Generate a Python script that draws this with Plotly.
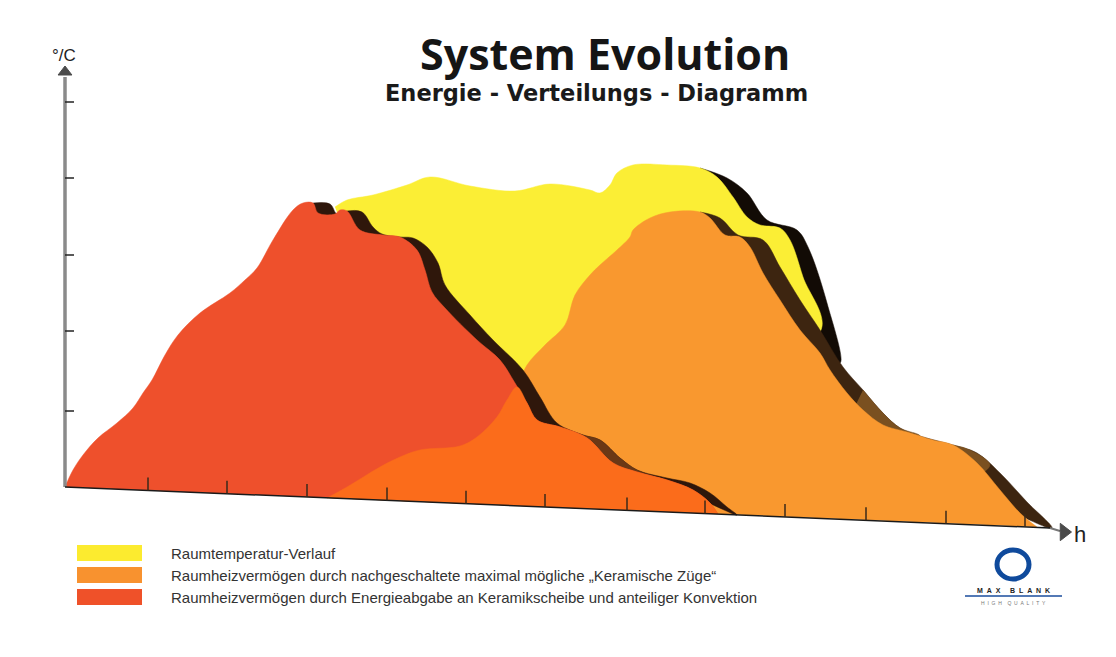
import plotly.graph_objects as go

# Hours axis in drawing units (one scale division is about 80), temperature about 77 per division
RED_X = [0,8,18,33,52,68,78,87,100,113,135,165,180,192,208,228,238,248,253,270,275,282,295,318,335,352,360,367,380,412,435,450,462,472,495,522,548,572,602,628,645,653]
RED_Y = [0,17,32,49,64,79,94,107,132,152,174,194,207,219,247,277,284,284,274,273,277,276,257,252,250,237,217,195,179,147,127,104,84,67,60,49,24,15,7,-3,-16,-27]
RED_EDGE_X = [248,265,272,282,297,308,317,335,348,362,373,380,405,428,458,475,492,518,535,555,572,602,625,645,662,672,600,248]
RED_EDGE_Y = [284,283,273,276,275,260,253,250,249,240,224,202,172,147,117,90,64,52,47,29,17,9,4,-6,-20,-28,0,50]
RED_FADE_X = [500,518,535,555,572,590,540,500]
RED_FADE_Y = [59,52,47,29,17,10,20,40]
ORANGE_X = [262,282,315,335,355,395,412,432,442,452,462,480,500,510,525,535,552,565,568,585,605,635,645,660,675,685,698,715,735,755,765,782,798,818,842,868,888,912,935,955,972]
ORANGE_Y = [-11,0,20,30,37,41,50,70,87,100,122,142,162,192,212,222,237,250,257,269,275,275,269,252,250,240,214,187,157,134,117,94,77,62,55,47,42,24,-3,-26,-40]
ORANGE_EDGE_X = [635,655,673,698,715,735,755,778,798,818,835,855,888,912,935,962,987,935,635]
ORANGE_EDGE_Y = [275,269,252,247,220,187,157,120,97,74,59,51,42,34,14,-15,-41,-20,100]
ORANGE_FADE_X = [798,818,835,855,820,780]
ORANGE_FADE_Y = [97,74,59,51,40,60]
ORANGE_FADE2_X = [888,905,925,905,885]
ORANGE_FADE2_Y = [42,37,22,10,30]
YELLOW_X = [270,282,308,342,365,405,450,485,525,535,545,552,568,602,635,652,668,682,695,715,725,738,755,480,300]
YELLOW_Y = [280,287,292,302,310,301,296,303,297,294,302,314,322,322,319,310,290,270,262,259,247,210,155,100,200]
YELLOW_EDGE_X = [635,662,682,702,732,743,762,775,725,635]
YELLOW_EDGE_Y = [319,309,294,267,257,240,184,124,180,240]
OVERLAP_X = [262,282,315,335,355,395,412,432,442,452,462,472,495,522,548,572,602,628,645,653]
OVERLAP_Y = [-11,0,20,30,37,41,50,70,87,100,84,67,60,49,24,15,7,-3,-16,-27]

X_TICKS = [83,162,242,322,401,480,562,640,720,801,881,960]
X_TICK_BASE = [-3.5,-6.7,-10,-13.4,-16.7,-20,-23.4,-26.6,-30,-33.3,-36.7,-40]
Y_TICKS = [76,156,232,309,385]

LEGEND_LABELS = [
    "Raumtemperatur-Verlauf",
    "Raumheizvermögen durch nachgeschaltete maximal mögliche „Keramische Züge“",
    "Raumheizvermögen durch Energieabgabe an Keramikscheibe und anteiliger Konvektion",
]
LEGEND_COLORS = ["#FCEB2F", "#F8922F", "#EF5129"]
LEGEND_Y = [-66, -88, -110]

YELLOW, ORANGE, RED, OVERLAP = "#FBEE35", "#F9982F", "#EE502C", "#FB6C1B"

fig = go.Figure()

def area(x, y, color):
    fig.add_trace(go.Scatter(x=x, y=y, mode="lines", fill="toself", fillcolor=color,
                             line=dict(color=color, width=0.5, shape="spline", smoothing=1.0),
                             hoverinfo="skip", showlegend=False))

area(YELLOW_EDGE_X, YELLOW_EDGE_Y, "#120B05")
area(YELLOW_X, YELLOW_Y, YELLOW)
area(ORANGE_EDGE_X, ORANGE_EDGE_Y, "#3D2510")
area(ORANGE_FADE_X, ORANGE_FADE_Y, "#7A5020")
area(ORANGE_FADE2_X, ORANGE_FADE2_Y, "#7A5020")
area(ORANGE_X, ORANGE_Y, ORANGE)
area(RED_EDGE_X, RED_EDGE_Y, "#2F170B")
area(RED_FADE_X, RED_FADE_Y, "#6B3815")
area(RED_X, RED_Y, RED)
area(OVERLAP_X, OVERLAP_Y, OVERLAP)

def seg(x, y, color, width):
    fig.add_trace(go.Scatter(x=x, y=y, mode="lines", line=dict(color=color, width=width),
                             hoverinfo="skip", showlegend=False))

seg([0, 0], [0, 410], "#8A8A8A", 3.5)
seg([0, 985], [0, -41], "#1A1A1A", 1.5)
seg([985, 995], [-41, -44], "#777777", 2)
for v in Y_TICKS:
    seg([0, 9], [v, v], "#222222", 1.5)
for xv, b in zip(X_TICKS, X_TICK_BASE):
    seg([xv, xv], [b, b + 13], "#3A2A1A", 1.5)

fig.add_trace(go.Scatter(x=[0, 999], y=[415, -45], mode="markers",
                         marker=dict(symbol=["triangle-up", "triangle-right"], size=[12, 15], color="black",
                                     line=dict(color="black", width=1)),
                         hoverinfo="skip", showlegend=False))

shapes = []
for lab_y, col in zip(LEGEND_Y, LEGEND_COLORS):
    shapes.append(dict(type="rect", x0=12, x1=77, y0=lab_y - 8, y1=lab_y + 8, fillcolor=col, line_width=0, layer="above"))
shapes.append(dict(type="circle", x0=932, x1=964, y0=-92, y1=-63, line=dict(color="#0F4A9C", width=5), layer="above"))
shapes.append(dict(type="line", x0=900, x1=997, y0=-109, y1=-109, line=dict(color="#1A4C9C", width=1.5), layer="above"))

NB = "\u00a0"
anns = [
    dict(x=540, y=434, text="<b>System Evolution</b>", font=dict(family="Open Sans", size=43, color="#151515")),
    dict(x=531, y=394, text="<b>Energie - Verteilungs - Diagramm</b>", font=dict(family="DejaVu Sans", size=22.5, color="#1A1A1A")),
    dict(x=-1, y=432, text="°/C", font=dict(family="Liberation Sans", size=17, color="#222222")),
    dict(x=1015, y=-47, text="h", font=dict(family="Liberation Sans", size=22, color="#222222")),
    dict(x=948, y=-103, text="<b>" + (NB * 2).join("MAX") + NB * 5 + (NB * 2).join("BLANK") + "</b>",
         font=dict(family="Liberation Sans", size=7, color="#222222")),
    dict(x=948, y=-116, text=(NB * 2).join("HIGH") + NB * 4 + (NB * 2).join("QUALITY"),
         font=dict(family="Liberation Sans", size=5, color="#777777")),
]
for lab, lab_y in zip(LEGEND_LABELS, LEGEND_Y):
    anns.append(dict(x=104, y=lab_y, text=lab, xanchor="left",
                     font=dict(family="Liberation Sans", size=15, color="#333333")))
for a in anns:
    a.setdefault("xanchor", "center")
    a.update(showarrow=False, yanchor="middle", xref="x", yref="y")

fig.update_layout(
    width=1116, height=657, margin=dict(l=0, r=0, t=0, b=0),
    paper_bgcolor="white", plot_bgcolor="white", showlegend=False,
    xaxis=dict(range=[-65, 1051], visible=False, fixedrange=True),
    yaxis=dict(range=[-170, 487], visible=False, fixedrange=True),
    shapes=shapes, annotations=anns,
)
fig.write_html("out.html", config=dict(displayModeBar=False),
               post_script="document.body.style.margin='0';")
